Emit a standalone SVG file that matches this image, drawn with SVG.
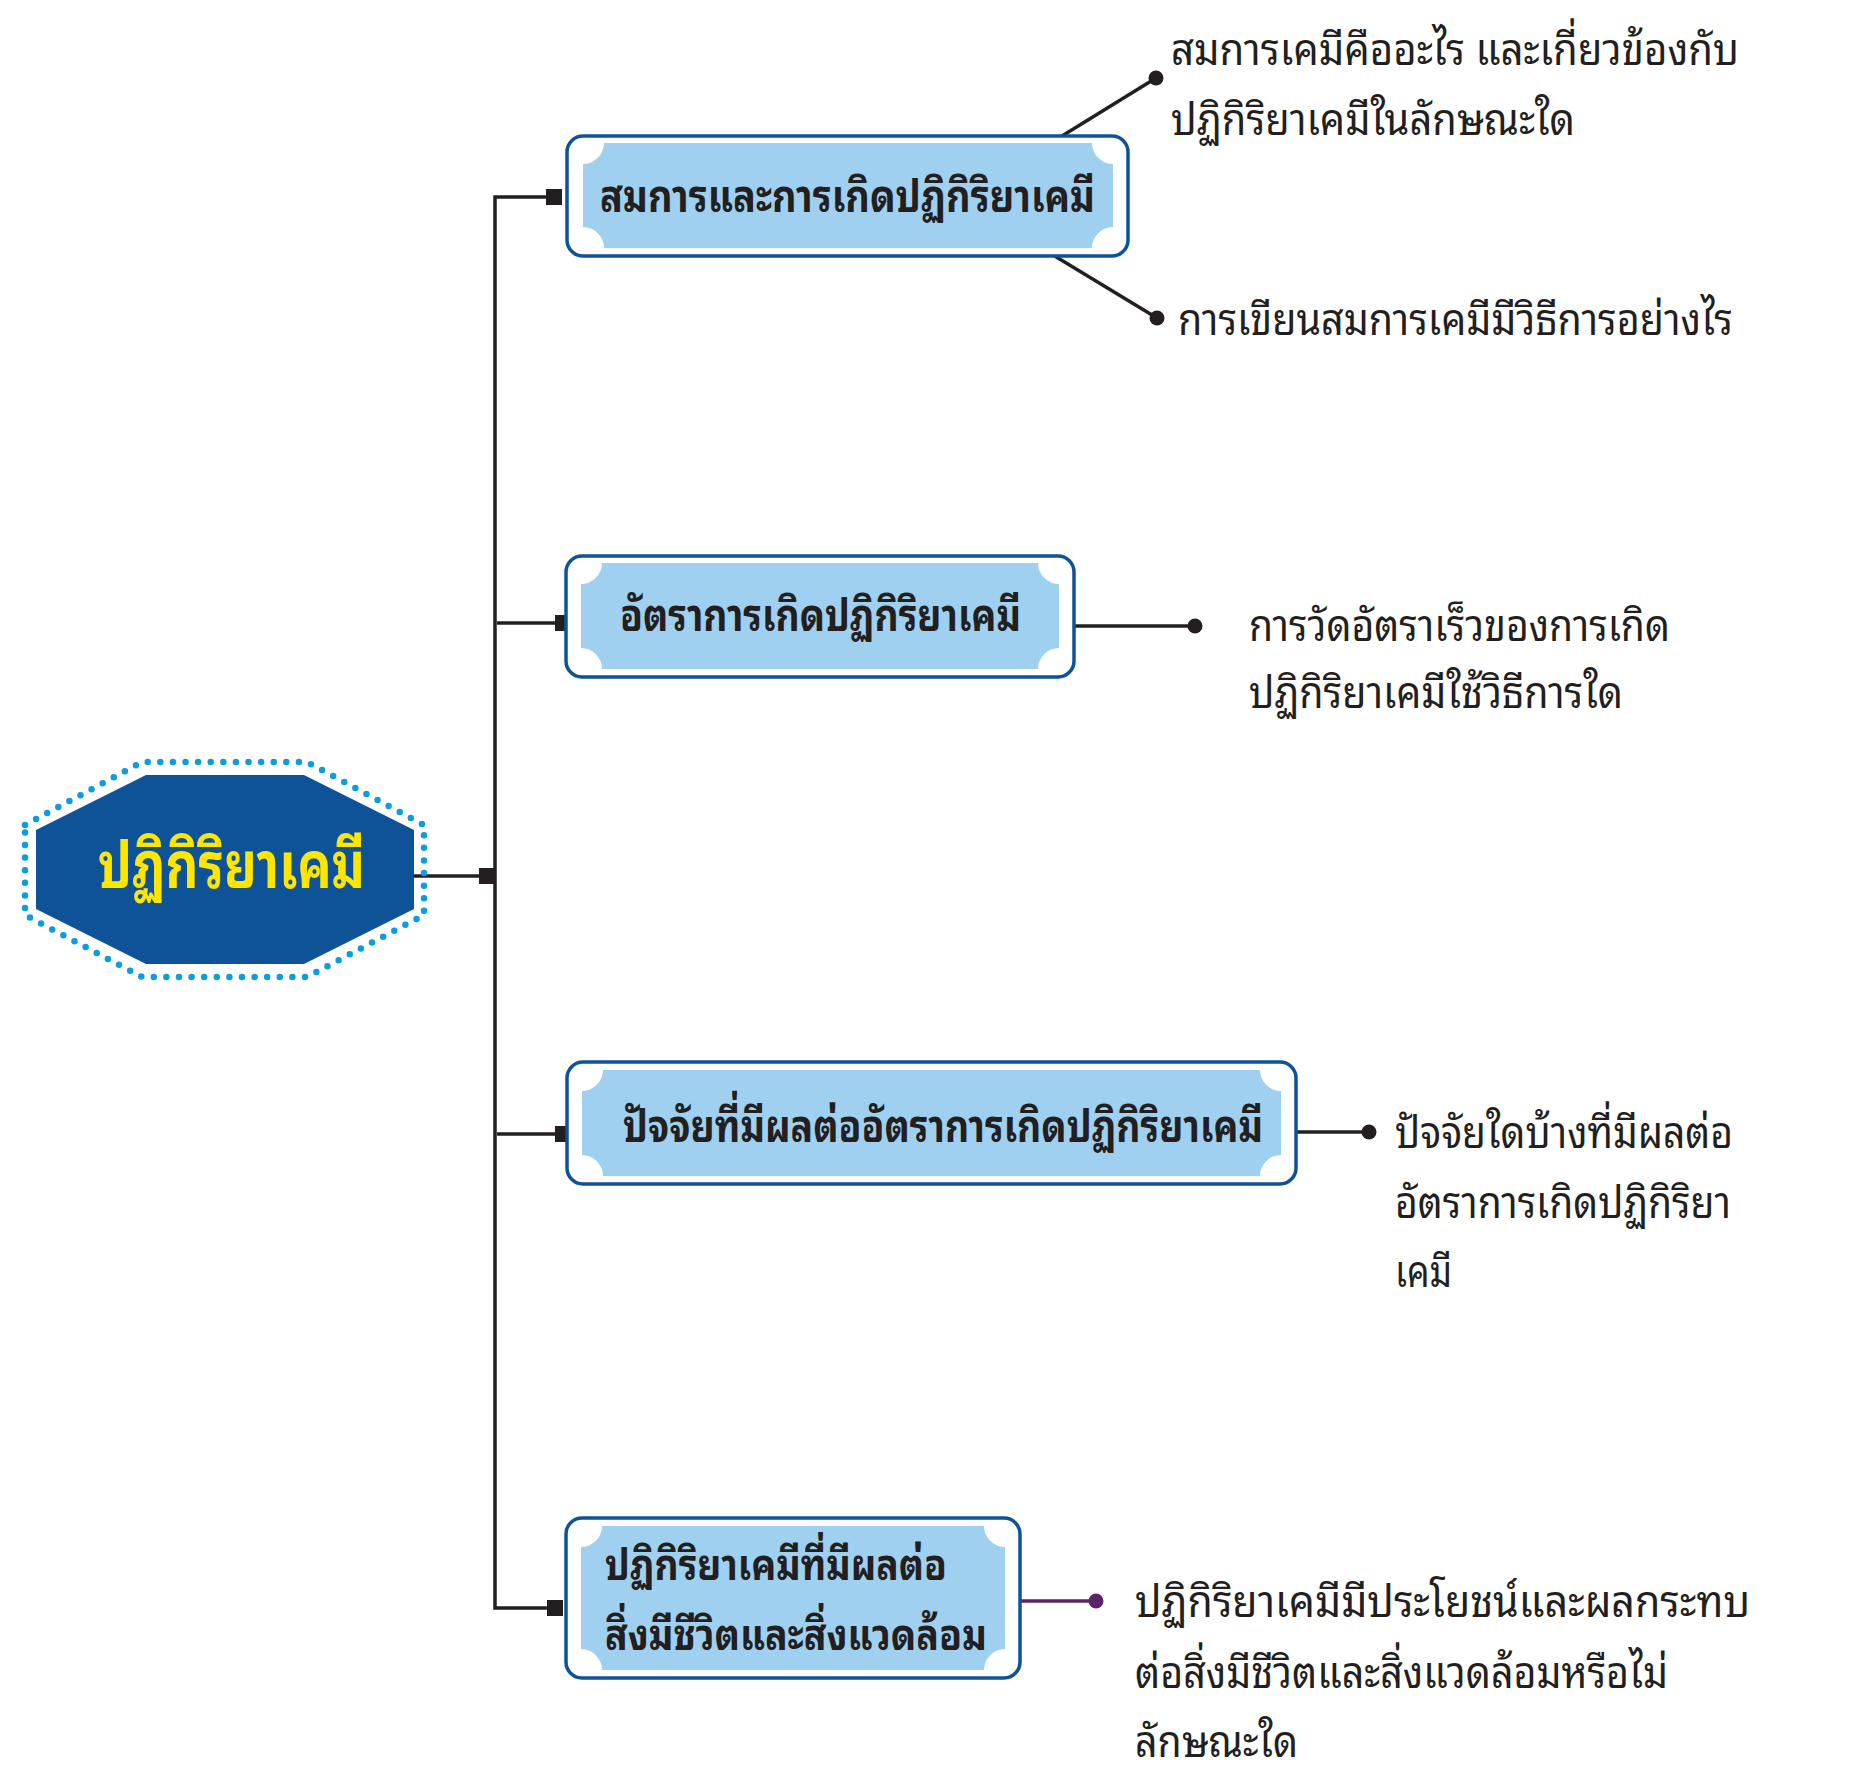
<svg xmlns="http://www.w3.org/2000/svg" width="1858" height="1788" viewBox="0 0 1858 1788">
<style>
.bg{fill:#ffffff}
.ln{stroke:#231f20;stroke-width:3.5;fill:none}
.lnp{stroke:#5c2468;stroke-width:3.5;fill:none}
.dot{fill:#231f20}
.dotp{fill:#5c2468}
.sq{fill:#231f20}
.outer{fill:#ffffff;stroke:#0e5298;stroke-width:3.5}
.inner{fill:#9fd0ef}
.bt{font-family:'Noto Sans Thai Looped','Noto Sans Thai','Noto Sans',sans-serif;font-weight:bold;font-size:46px;fill:#231f20}
.bt4{font-family:'Noto Sans Thai Looped','Noto Sans Thai','Noto Sans',sans-serif;font-weight:bold;font-size:43px;fill:#231f20}
.tt{font-family:'Noto Sans Thai Looped','Noto Sans Thai','Noto Sans',sans-serif;font-size:44px;fill:#231f20}
.ot{font-family:'Noto Sans Thai Looped','Noto Sans Thai','Noto Sans',sans-serif;font-weight:bold;font-size:64px;fill:#ffe600}
</style>
<rect class="bg" x="0" y="0" width="1858" height="1788"/>
<g id="connectors">
  <polyline class="ln" points="554,197 495,197 495,1608 555,1608"/>
  <rect class="sq" x="546" y="189" width="16" height="16"/>
  <line class="ln" x1="414" y1="876" x2="495" y2="876"/>
  <rect class="sq" x="479" y="868" width="16" height="16"/>
  <line class="ln" x1="497" y1="623" x2="560" y2="623"/>
  <rect class="sq" x="555" y="615" width="12" height="16"/>
  <line class="ln" x1="497" y1="1134" x2="560" y2="1134"/>
  <rect class="sq" x="555" y="1126" width="12" height="16"/>
  <rect class="sq" x="547" y="1600" width="16" height="16"/>
  <line class="ln" x1="1062" y1="136" x2="1156" y2="78"/>
  <circle class="dot" cx="1156" cy="78" r="7.5"/>
  <line class="ln" x1="1053" y1="255" x2="1157" y2="318"/>
  <circle class="dot" cx="1157" cy="318" r="7.5"/>
  <line class="ln" x1="1074" y1="626" x2="1195" y2="626"/>
  <circle class="dot" cx="1195" cy="626" r="7.5"/>
  <line class="ln" x1="1296" y1="1132" x2="1369" y2="1132"/>
  <circle class="dot" cx="1369" cy="1132" r="7.5"/>
  <line class="lnp" x1="1020" y1="1601" x2="1096" y2="1601"/>
  <circle class="dotp" cx="1096" cy="1601" r="7.5"/>
</g>
<g id="node-root">
  <polygon points="25,825 142,762 307,762 424,825 424,915 307,977 142,977 25,915" fill="none" stroke="#0a9ee0" stroke-width="6.5" stroke-linecap="round" stroke-dasharray="0 12.6"/>
  <polygon points="36,830 146,775 304,775 414,830 414,909 304,964 146,964 36,909" fill="#0e5298"/>
  <text class="ot" x="98" y="888" textLength="267" lengthAdjust="spacingAndGlyphs">ปฏิกิริยาเคมี</text>
</g>
<g id="node-1">
  <rect class="outer" x="567" y="136" width="561" height="120" rx="16"/>
  <path class="inner" d="M604,143 L1092,143 A21,21 0 0 0 1113,164 L1113,227 A21,21 0 0 0 1092,248 L604,248 A21,21 0 0 0 583,227 L583,164 A21,21 0 0 0 604,143 Z"/>
  <text class="bt" x="600" y="212" textLength="495" lengthAdjust="spacingAndGlyphs">สมการและการเกิดปฏิกิริยาเคมี</text>
</g>
<g id="node-2">
  <rect class="outer" x="566" y="556" width="508" height="121" rx="16"/>
  <path class="inner" d="M602,563 L1038,563 A21,21 0 0 0 1059,584 L1059,648 A21,21 0 0 0 1038,669 L602,669 A21,21 0 0 0 581,648 L581,584 A21,21 0 0 0 602,563 Z"/>
  <text class="bt" x="620" y="631" textLength="401" lengthAdjust="spacingAndGlyphs">อัตราการเกิดปฏิกิริยาเคมี</text>
</g>
<g id="node-3">
  <rect class="outer" x="567" y="1062" width="729" height="122" rx="16"/>
  <path class="inner" d="M603,1070 L1260,1070 A21,21 0 0 0 1281,1091 L1281,1155 A21,21 0 0 0 1260,1176 L603,1176 A21,21 0 0 0 582,1155 L582,1091 A21,21 0 0 0 603,1070 Z"/>
  <text class="bt" x="623" y="1142" textLength="640" lengthAdjust="spacingAndGlyphs">ปัจจัยที่มีผลต่ออัตราการเกิดปฏิกิริยาเคมี</text>
</g>
<g id="node-4">
  <rect class="outer" x="566" y="1518" width="454" height="160" rx="16"/>
  <path class="inner" d="M602,1526 L984,1526 A21,21 0 0 0 1005,1547 L1005,1649 A21,21 0 0 0 984,1670 L602,1670 A21,21 0 0 0 581,1649 L581,1547 A21,21 0 0 0 602,1526 Z"/>
  <text class="bt4" x="605" y="1580" textLength="342" lengthAdjust="spacingAndGlyphs">ปฏิกิริยาเคมีที่มีผลต่อ</text>
  <text class="bt4" x="605" y="1650" textLength="382" lengthAdjust="spacingAndGlyphs">สิ่งมีชีวิตและสิ่งแวดล้อม</text>
</g>
<g id="label-1a">
  <text class="tt" x="1171" y="65" textLength="568" lengthAdjust="spacingAndGlyphs">สมการเคมีคืออะไร และเกี่ยวข้องกับ</text>
  <text class="tt" x="1171" y="135" textLength="404" lengthAdjust="spacingAndGlyphs">ปฏิกิริยาเคมีในลักษณะใด</text>
</g>
<g id="label-1b">
  <text class="tt" x="1178" y="335" textLength="555" lengthAdjust="spacingAndGlyphs">การเขียนสมการเคมีมีวิธีการอย่างไร</text>
</g>
<g id="label-2">
  <text class="tt" x="1249" y="641" textLength="421" lengthAdjust="spacingAndGlyphs">การวัดอัตราเร็วของการเกิด</text>
  <text class="tt" x="1249" y="708" textLength="374" lengthAdjust="spacingAndGlyphs">ปฏิกิริยาเคมีใช้วิธีการใด</text>
</g>
<g id="label-3">
  <text class="tt" x="1395" y="1148" textLength="338" lengthAdjust="spacingAndGlyphs">ปัจจัยใดบ้างที่มีผลต่อ</text>
  <text class="tt" x="1395" y="1218" textLength="336" lengthAdjust="spacingAndGlyphs">อัตราการเกิดปฏิกิริยา</text>
  <text class="tt" x="1395" y="1287" textLength="57" lengthAdjust="spacingAndGlyphs">เคมี</text>
</g>
<g id="label-4">
  <text class="tt" x="1135" y="1617" textLength="615" lengthAdjust="spacingAndGlyphs">ปฏิกิริยาเคมีมีประโยชน์และผลกระทบ</text>
  <text class="tt" x="1135" y="1688" textLength="533" lengthAdjust="spacingAndGlyphs">ต่อสิ่งมีชีวิตและสิ่งแวดล้อมหรือไม่</text>
  <text class="tt" x="1135" y="1757" textLength="163" lengthAdjust="spacingAndGlyphs">ลักษณะใด</text>
</g>
</svg>
